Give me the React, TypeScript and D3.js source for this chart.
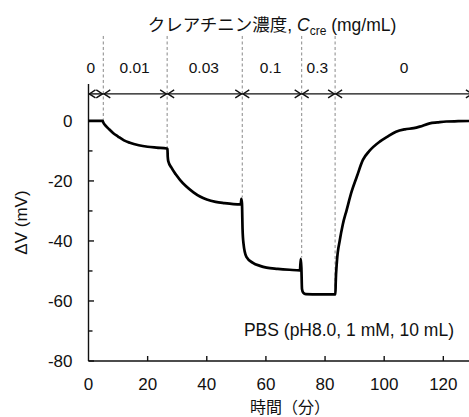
import React from 'react';
import * as d3 from 'd3';

// time (min) vs ΔV (mV)
const timeMin = [
  0, 4.8, 5.0, 6, 7, 8.3, 10, 12, 14, 17, 20, 23, 26.5,
  26.7, 26.8, 27, 28, 29.5, 31, 33, 35.5, 37.7, 40, 43, 46, 49, 51.5,
  51.7, 51.9, 52.1, 52.4, 53.4, 55.6, 58, 60.2, 64, 68, 71.5,
  71.8, 72, 72.2, 72.6, 73.5, 78, 83.5,
  83.6, 84, 85, 86, 87.3, 89, 90.7, 92.8, 95, 98.5, 101, 104, 107, 110, 112, 115.4, 118, 121, 125, 130,
];
const deltaV = [
  0, 0, -0.5, -1.8, -2.8, -4, -5.2, -6.5, -7.3, -8.1, -8.6, -8.9, -9.2,
  -9.3, -12, -13.5, -15.5, -17.8, -19.7, -21.8, -23.8, -25.2, -26.2, -27, -27.4, -27.7, -27.8,
  -26, -27.5, -36, -40.7, -45.3, -47.3, -48.3, -48.9, -49.3, -49.6, -49.8,
  -46, -49, -56, -57.2, -57.7, -57.8, -57.8,
  -54, -47, -39.7, -34.5, -29.7, -23.5, -18.7, -13, -10, -6.9, -5.3, -3.6, -2.8, -2.4, -1.9, -0.8, -0.5, -0.2, -0.1, 0,
];

// injection times (dashed lines) and where each dashed line stops
const switchTimes = [5.0, 26.6, 52.0, 72.1, 83.4];
const switchEnds = [0, -9.2, -25.5, -45.5, -55.3];
const segBounds = [0, 5.0, 26.6, 52.0, 72.1, 83.4, 130];
const segLabels = ['0', '0.01', '0.03', '0.1', '0.3', '0'];
const segLabelAt = [0.8, 15.6, 39, 61.6, 77.4, 106.7];

const xTicks = [0, 20, 40, 60, 80, 100, 120];
const yTicks = [0, -20, -40, -60, -80];
const yMinor = [-10, -30, -50, -70];

const W = 469;
const H = 417;
const FONT = "'Liberation Sans', Arial, 'Noto Sans CJK JP', sans-serif";

export default function App() {
  const x = d3.scaleLinear().domain([0, 130]).range([88.5, 472.9]);
  const y = d3.scaleLinear().domain([-80, 12.3]).range([361, 84]);

  const pts = timeMin.map((t, i) => [t, deltaV[i]] as [number, number]);
  const line = d3.line<[number, number]>()
    .x(d => x(d[0]))
    .y(d => y(d[1]))
    .curve(d3.curveMonotoneX);

  const arrowY = y(9);
  const dashTop = y(28.3);
  const ah = 7; // arrowhead length
  const aw = 4; // arrowhead half width

  return (
    <svg width={W} height={H} style={{ position: 'absolute', left: 0, top: 0 }} fontFamily={FONT}>
      <rect width={W} height={H} fill="#fff" />

      {/* title */}
      <text x={272} y={31} fontSize={17.5} textAnchor="middle" fill="#111">
        クレアチニン濃度, <tspan fontStyle="italic">C</tspan>
        <tspan fontSize={12} dy={4}>cre</tspan>
        <tspan dy={-4}> (mg/mL)</tspan>
      </text>

      {/* dashed switch lines */}
      {switchTimes.map((t, i) => (
        <line key={'d' + i} x1={x(t)} x2={x(t)} y1={dashTop} y2={y(switchEnds[i])}
          stroke="#888" strokeWidth={1} strokeDasharray="3,2.5" />
      ))}

      {/* concentration segments with double arrows */}
      {segLabels.map((lab, i) => {
        const x0 = x(segBounds[i]);
        const x1 = x(segBounds[i + 1]);
        return (
          <g key={'s' + i} stroke="#111" strokeWidth={1.4} fill="none">
            <line x1={x0} x2={x1} y1={arrowY} y2={arrowY} />
            <path d={`M${x0 + ah},${arrowY - aw}L${x0 + 0.8},${arrowY}L${x0 + ah},${arrowY + aw}`} />
            <path d={`M${x1 - ah},${arrowY - aw}L${x1 - 0.8},${arrowY}L${x1 - ah},${arrowY + aw}`} />
            <text x={x(segLabelAt[i])} y={73} fontSize={15.5} textAnchor="middle" stroke="none" fill="#111">{lab}</text>
          </g>
        );
      })}

      {/* axes */}
      <g stroke="#111" strokeWidth={1.4}>
        <line x1={x(0)} x2={x(0)} y1={y(12.3)} y2={y(-80)} />
        <line x1={x(0)} x2={W} y1={y(-80)} y2={y(-80)} />
        {yTicks.map(v => <line key={'yt' + v} x1={x(0)} x2={x(0) + 5.5} y1={y(v)} y2={y(v)} />)}
        {yMinor.map(v => <line key={'ym' + v} x1={x(0)} x2={x(0) + 4} y1={y(v)} y2={y(v)} />)}
        {xTicks.slice(1).map(v => <line key={'xt' + v} x1={x(v)} x2={x(v)} y1={y(-80)} y2={y(-80) - 5} />)}
      </g>
      {yTicks.map(v => (
        <text key={'yl' + v} x={72.5} y={y(v)} dy="0.36em" fontSize={17} textAnchor="end" fill="#111">{v}</text>
      ))}
      {xTicks.map(v => (
        <text key={'xl' + v} x={x(v)} y={390} fontSize={17} textAnchor="middle" fill="#111">{v}</text>
      ))}

      <text x={290} y={413} fontSize={16} textAnchor="middle" fill="#111">時間（分）</text>
      <text transform={`translate(27,${(y(12.3) + y(-80)) / 2}) rotate(-90)`} fontSize={17} textAnchor="middle" fill="#111">ΔV (mV)</text>

      <text x={454} y={336} fontSize={17.5} textAnchor="end" fill="#111">PBS (pH8.0, 1 mM, 10 mL)</text>

      {/* response curve */}
      <path d={line(pts) ?? ''} fill="none" stroke="#000" strokeWidth={2.7} strokeLinejoin="round" />
    </svg>
  );
}
